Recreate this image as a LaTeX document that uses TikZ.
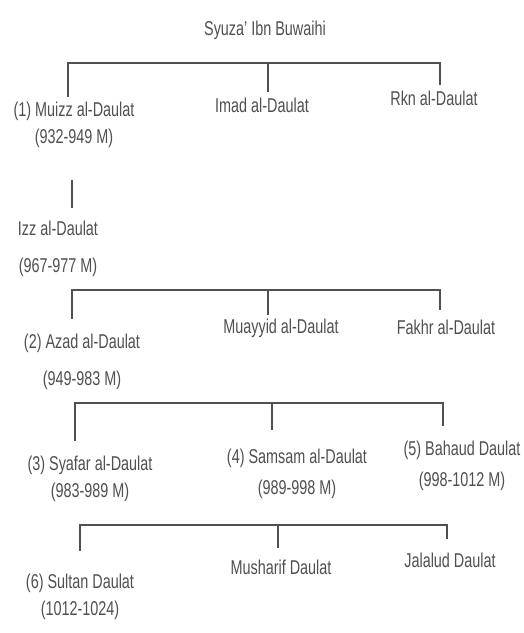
\documentclass[tikz,border=0pt]{standalone}
\usepackage{fontspec}
\setmainfont{Liberation Sans}[FakeStretch=0.72]
\usepackage{tikz}
\definecolor{inkc}{RGB}{80,80,80}
\tikzset{
	ruler/.style={draw=inkc,line width=1.1pt},
	nm/.style={text=inkc,inner sep=1pt,align=center,font=\fontsize{20}{27}\selectfont}
}

\begin{document}
\begin{tikzpicture}[x=1pt,y=-1pt]
						\fill[white] (0,0) rectangle (524,633);
						\node [nm] (syuza) at (265,30) {Syuza' Ibn Buwaihi};

						\node [nm] (muizz) at (74,125) {(1) Muizz al-Daulat\\(932-949 M)};
						\node [nm] (imad) at (262,105) {Imad al-Daulat};
						\node [nm] (rkn) at (434,98) {Rkn al-Daulat};
						\node [nm] (izz) at (58,249) {Izz al-Daulat\\[10pt](967-977 M)};

						\node [nm] (azad) at (82,362) {(2) Azad al-Daulat\\[10pt](949-983 M)};
						\node [nm] (muayyid) at (281,328) {Muayyid al-Daulat};
						\node [nm] (fakhr) at (446,327) {Fakhr al-Daulat};

						\node [nm] (syafar) at (90,479) {(3) Syafar al-Daulat\\(983-989 M)};
						\node [nm] (samsam) at (297,474) {(4) Samsam al-Daulat\\[4pt](989-998 M)};
						\node [nm] (bahaud) at (462,466) {(5) Bahaud Daulat\\[4pt](998-1012 M)};

						\node [nm] (sultan) at (80,597) {(6) Sultan Daulat\\(1012-1024)};
						\node [nm] (musharif) at (281,567) {Musharif Daulat};
						\node [nm] (jalalud) at (450,560) {Jalalud Daulat};

						\coordinate (l1) at (68,63); \coordinate (m1) at (268,63); \coordinate (r1) at (440,63);
						\coordinate (l2) at (72,290); \coordinate (m2) at (268,290); \coordinate (r2) at (440,290);
						\coordinate (l3) at (75,403); \coordinate (m3) at (272,403); \coordinate (r3) at (443,403);
						\coordinate (l4) at (80,525); \coordinate (m4) at (278,525); \coordinate (r4) at (447,525);

						\draw [ruler,shorten <=4pt,shorten >=4pt] (muizz.north -| l1) -- (l1) -- (r1) -- (rkn.north -| r1);
						\draw [ruler,shorten >=4pt] (m1) -- (imad.north -| m1);
						\draw [ruler,shorten <=31pt,shorten >=12pt] (muizz.south -| l2) -- (izz.north -| l2);

						\draw [ruler,shorten <=14pt,shorten >=8pt] (azad.north -| l2) -- (l2) -- (r2) -- (fakhr.north -| r2);
						\draw [ruler,shorten >=2pt] (m2) -- (muayyid.north -| m2);

						\draw [ruler,shorten <=14pt,shorten >=14pt] (syafar.north -| l3) -- (l3) -- (r3) -- (bahaud.north -| r3);
						\draw [ruler,shorten >=18pt] (m3) -- (samsam.north -| m3);

						\draw [ruler,shorten <=22pt,shorten >=12pt] (sultan.north -| l4) -- (l4) -- (r4) -- (jalalud.north -| r4);
						\draw [ruler,shorten >=10pt] (m4) -- (musharif.north -| m4);
					\end{tikzpicture}
\end{document}
